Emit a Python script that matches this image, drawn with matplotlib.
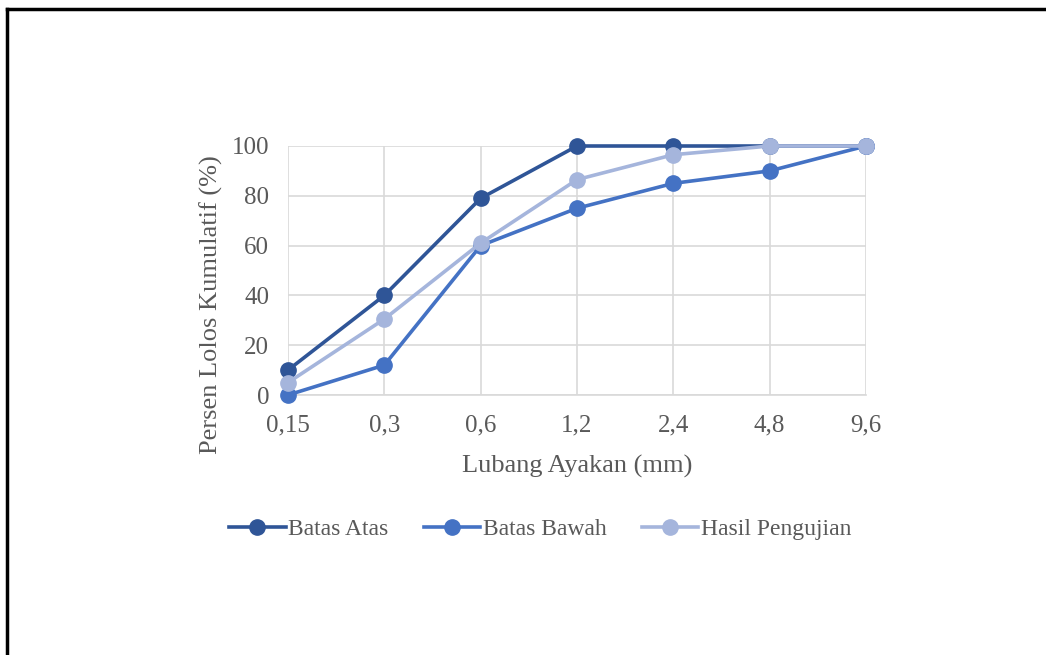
import matplotlib
matplotlib.use("Agg")
import matplotlib.pyplot as plt
from matplotlib.lines import Line2D

categories = ["0,15", "0,3", "0,6", "1,2", "2,4", "4,8", "9,6"]
batas_atas = [10, 40, 79, 100, 100, 100, 100]
batas_bawah = [0, 12, 60, 75, 85, 90, 100]
hasil_pengujian = [5, 30.5, 61, 86.5, 96.5, 100, 100]
yticks = [0, 20, 40, 60, 80, 100]

plt.rcParams['font.family'] = ['Liberation Serif', 'DejaVu Serif']
txt = '#595959'

W, H = 1046, 655
fig = plt.figure(figsize=(W/100, H/100), dpi=100)
ax = fig.add_axes([288/W, 1-395/H, (866-288)/W, (395-146)/H])

x = list(range(len(categories)))
series = [("Batas Atas", batas_atas, '#2f5597'),
          ("Batas Bawah", batas_bawah, '#4472c4'),
          ("Hasil Pengujian", hasil_pengujian, '#a5b5dc')]
for name, vals, c in series:
    ax.plot(x, vals, color=c, lw=2.6, marker='o', ms=11, label=name, zorder=3, clip_on=False)

ax.set_xlim(0, len(categories)-1)
ax.set_ylim(0, 100)
ax.set_xticks(x)
ax.set_xticklabels(categories)
ax.set_yticks(yticks)
ax.grid(True, color='#d9d9d9', lw=1.2, zorder=0)
for s in ['top', 'right', 'left']:
    ax.spines[s].set_visible(False)
ax.spines['bottom'].set_color('#d9d9d9')
ax.spines['bottom'].set_linewidth(1.2)
ax.tick_params(length=0, labelsize=18, colors=txt)
ax.tick_params(axis='x', pad=14)
ax.tick_params(axis='y', pad=13.5)
ax.set_xlabel("Lubang Ayakan (mm)", fontsize=19, color=txt, labelpad=13)
ax.set_ylabel("Persen Lolos Kumulatif (%)", fontsize=19, color=txt, va='center')
ax.yaxis.set_label_coords((211-288)/578, (395-305)/249)

handles, labels = ax.get_legend_handles_labels()
leg = fig.legend(handles, labels, loc='center', bbox_to_anchor=(540/W, 1-529/H),
                 ncol=3, frameon=False, fontsize=17, handlelength=2.4,
                 handletextpad=0.1, columnspacing=1.5)
for t in leg.get_texts():
    t.set_color(txt)

# outer frame
fig.add_artist(Line2D([7/W, 1], [1-9/H, 1-9/H], color='black', lw=2.5, transform=fig.transFigure))
fig.add_artist(Line2D([7/W, 7/W], [0, 1-9/H], color='black', lw=2.5, transform=fig.transFigure))

fig.savefig("out.png", dpi=100)
